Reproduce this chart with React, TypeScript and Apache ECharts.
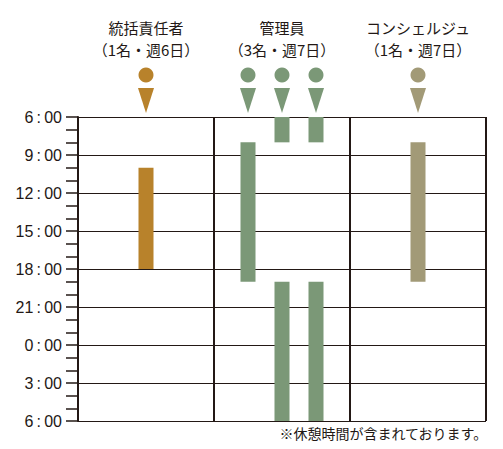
import React, { useEffect, useRef } from "react";
import * as echarts from "echarts";

const roles = ["統括責任者", "管理員", "コンシェルジュ"];
const roleNotes = ["（1名・週6日）", "（3名・週7日）", "（1名・週7日）"];
const roleColors = ["#B8822B", "#7B9877", "#A29A77"];

// staff members: position across the columns (column units) and role index
const staffPos = [0.5, 1.25, 1.5, 1.75, 2.5];
const staffRole = [0, 1, 1, 1, 2];

// shifts: staff index, start clock hour, end clock hour
const shiftStaff = [0, 1, 2, 2, 3, 3, 4];
const shiftStart = [10, 8, 6, 19, 6, 19, 8];
const shiftEnd = [18, 19, 8, 6, 8, 6, 19];

const hourTicks = [6, 9, 12, 15, 18, 21, 0, 3, 6];
const note = "※休憩時間が含まれております。";

const DARK = "#231815";
const JP = "'Noto Sans CJK JP', 'Noto Sans', sans-serif";
const NUM = "'Liberation Sans', Arial, sans-serif";

const toOffset = (h: number) => (h - 6 + 24) % 24;

const headerAxis = (data: string[], margin: number) => ({
  type: "category",
  position: "top",
  offset: 0,
  data,
  axisLine: { show: false },
  axisTick: { show: false },
  splitLine: { show: false },
  axisLabel: {
    interval: 0,
    margin,
    fontSize: 15,
    color: DARK,
    fontFamily: JP,
  },
});

export default function App() {
  const ref = useRef<HTMLDivElement>(null);
  useEffect(() => {
    if (!ref.current) return;
    const chart = echarts.init(ref.current, undefined, { renderer: "svg" });

    const iconData = staffPos.map((x, i) => [x, staffRole[i]]);
    const barData = shiftStaff.map((s, i) => {
      const a = toOffset(shiftStart[i]);
      let b = toOffset(shiftEnd[i]);
      if (b <= a) b = 24;
      return [staffPos[s], a, b, staffRole[s]];
    });

    chart.setOption({
      animation: false,
      grid: { left: 78, right: 17, top: 117, bottom: 28, containLabel: false },
      xAxis: [
        {
          type: "value",
          min: 0,
          max: 3,
          interval: 1,
          axisLine: { show: false },
          axisTick: { show: false },
          axisLabel: { show: false },
          splitLine: { show: true, lineStyle: { color: DARK, width: 2 } },
        },
        headerAxis(roles, 82),
        headerAxis(roleNotes, 60),
      ],
      yAxis: {
        type: "value",
        inverse: true,
        min: 0,
        max: 24,
        interval: 3,
        axisLine: { show: true, lineStyle: { color: DARK, width: 2 } },
        axisTick: { show: true, length: 12, lineStyle: { color: DARK, width: 1.5 } },
        minorTick: { show: true, splitNumber: 3, length: 12, lineStyle: { color: DARK, width: 1.5 } },
        splitLine: { show: true, lineStyle: { color: DARK, width: 1.2 } },
        axisLabel: {
          margin: 16,
          fontSize: 16,
          color: DARK,
          fontFamily: NUM,
          formatter: (v: number) => {
            const h = hourTicks[Math.round(v / 3)];
            return `${h}\u2009:\u200900`;
          },
        },
      },
      graphic: [
        {
          type: "text",
          right: 15,
          top: 426,
          style: { text: note, fontSize: 14, fill: DARK, fontFamily: JP },
        },
      ],
      series: [
        {
          type: "custom",
          xAxisIndex: 0,
          yAxisIndex: 0,
          clip: false,
          data: barData,
          renderItem: (params: any, api: any) => {
            const x = api.value(0);
            const p0 = api.coord([x, api.value(1)]);
            const p1 = api.coord([x, api.value(2)]);
            const w = 15;
            return {
              type: "rect",
              shape: { x: p0[0] - w / 2, y: p0[1], width: w, height: p1[1] - p0[1] },
              style: { fill: roleColors[api.value(3)] },
            };
          },
        },
        {
          type: "custom",
          xAxisIndex: 0,
          yAxisIndex: 0,
          clip: false,
          data: iconData,
          renderItem: (params: any, api: any) => {
            const p = api.coord([api.value(0), 0]);
            const c = roleColors[api.value(1)];
            return {
              type: "group",
              children: [
                {
                  type: "circle",
                  shape: { cx: p[0], cy: p[1] - 42, r: 7.5 },
                  style: { fill: c },
                },
                {
                  type: "polygon",
                  shape: {
                    points: [
                      [p[0] - 8, p[1] - 29],
                      [p[0] + 8, p[1] - 29],
                      [p[0], p[1] - 4],
                    ],
                  },
                  style: { fill: c },
                },
              ],
            };
          },
        },
      ],
    });
    return () => chart.dispose();
  }, []);
  return (
    <div
      ref={ref}
      style={{ position: "fixed", left: 0, top: 0, width: 503, height: 449, background: "#fff" }}
    />
  );
}
